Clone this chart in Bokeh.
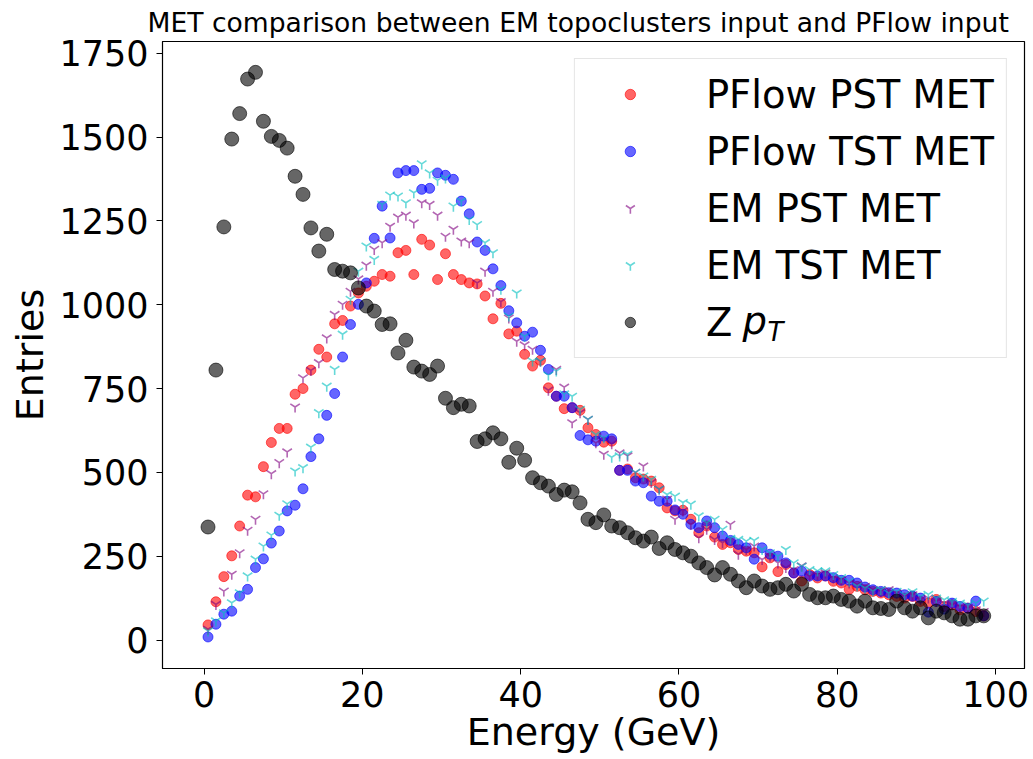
import numpy as np
from bokeh.plotting import figure
from bokeh.models import Range1d, FixedTicker, Legend, LegendItem, Label
from bokeh.embed import file_html
from bokeh.resources import INLINE

# bin centres (GeV)
energy = list(np.arange(0.5, 99.0, 1.0))

pflow_pst = [45, 114, 189, 251, 340, 432, 427, 517, 589, 631, 631, 733, 750, 805, 867, 844, 943, 953, 996, 1035,
             1055, 1070, 1090, 1085, 1155, 1162, 1090, 1195, 1178, 1075, 1152, 1090, 1075, 1065, 1062, 1026, 958, 1004, 913, 921,
             852, 817, 834, 752, 727, 690, 693, 685, 633, 613, 590, 593, 506, 510, 484, 480, 474, 454, 394, 385,
             387, 360, 320, 340, 307, 285, 290, 270, 265, 260, 218, 245, 204, 225, 200, 176, 195, 185, 191, 175,
             170, 151, 160, 150, 145, 140, 135, 130, 125, 130, 115, 110, 121, 100, 105, 90, 95, 85, 72]

pflow_tst = [9, 47, 77, 86, 131, 151, 216, 242, 289, 325, 385, 402, 451, 547, 600, 670, 735, 844, 941, 1001,
             1065, 1198, 1294, 1199, 1393, 1400, 1400, 1344, 1347, 1393, 1386, 1374, 1309, 1271, 1187, 1162, 1107, 1057, 982, 946,
             906, 918, 864, 807, 727, 727, 693, 610, 597, 593, 608, 600, 506, 506, 474, 469, 429, 414, 414, 388,
             375, 345, 335, 355, 335, 310, 297, 285, 275, 241, 275, 256, 250, 230, 200, 205, 191, 191, 191, 186,
             178, 178, 170, 158, 150, 145, 141, 140, 135, 131, 125, 83, 115, 92, 110, 100, 95, 116, 72]

em_pst = [32, 106, 146, 196, 260, 327, 360, 436, 496, 529, 561, 695, 782, 804, 827, 901, 971, 1001, 1040, 1077,
          1118, 1165, 1185, 1234, 1261, 1267, 1244, 1304, 1299, 1267, 1204, 1225, 1190, 1185, 1065, 1100, 1040, 1009, 960, 891,
          880, 867, 831, 745, 807, 754, 648, 678, 658, 588, 554, 585, 558, 549, 500, 519, 470, 450, 420, 360,
          385, 345, 305, 330, 300, 290, 345, 256, 270, 280, 240, 250, 230, 216, 210, 221, 190, 195, 200, 185,
          180, 170, 165, 160, 150, 145, 150, 140, 130, 135, 120, 125, 115, 110, 105, 100, 95, 90, 85]

em_tst = [27, 57, 81, 111, 141, 191, 241, 280, 313, 372, 406, 504, 514, 575, 678, 757, 807, 912, 1016, 1100,
          1175, 1135, 1299, 1327, 1324, 1304, 1334, 1420, 1393, 1371, 1378, 1294, 1309, 1254, 1239, 1185, 1155, 1046, 966, 1035,
          906, 832, 832, 790, 802, 734, 727, 688, 658, 613, 603, 545, 549, 554, 500, 489, 479, 450, 434, 429,
          410, 405, 370, 350, 360, 330, 303, 300, 295, 297, 270, 260, 250, 270, 230, 220, 210, 206, 206, 195,
          186, 175, 161, 155, 146, 150, 140, 145, 135, 144, 130, 136, 125, 120, 115, 110, 105, 110, 116]

z_pt = [337, 805, 1232, 1494, 1570, 1673, 1693, 1547, 1502, 1490, 1467, 1383, 1329, 1229, 1160, 1210, 1105, 1100, 1095, 1050,
        996, 981, 941, 943, 856, 894, 814, 802, 792, 817, 721, 693, 703, 698, 592, 600, 618, 600, 530, 572,
        536, 484, 469, 459, 434, 447, 442, 409, 360, 350, 373, 340, 335, 320, 305, 295, 307, 273, 290, 270,
        260, 250, 230, 216, 194, 216, 196, 176, 156, 176, 161, 151, 156, 166, 146, 166, 136, 126, 126, 131,
        121, 116, 101, 116, 96, 94, 91, 116, 96, 86, 96, 66, 86, 81, 72, 62, 62, 72, 72]

x_ticks = [0, 20, 40, 60, 80, 100]
y_ticks = [0, 250, 500, 750, 1000, 1250, 1500, 1750]

FONT = "DejaVu Sans"

p = figure(width=1033, height=759, output_backend="svg", toolbar_location=None,
           x_range=Range1d(-5.25, 103.65), y_range=Range1d(-85, 1785),
           min_border_left=162, min_border_right=9, min_border_top=40, min_border_bottom=91,
           title="MET comparison between EM topoclusters input and PFlow input")

p.title.text_font = FONT
p.title.text_font_size = "26.6px"
p.title.text_font_style = "normal"
p.title.align = "left"
p.title.offset = -15
p.title.text_color = "black"
p.title.standoff = 8

p.grid.visible = False
p.outline_line_color = "black"
p.outline_line_width = 1.2
p.background_fill_color = "white"
p.border_fill_color = "white"

for ax in (p.xaxis[0], p.yaxis[0]):
    ax.axis_line_color = "black"
    ax.major_tick_line_color = "black"
    ax.major_tick_out = 6
    ax.major_tick_in = 0
    ax.minor_tick_line_color = None
    ax.major_label_text_font = FONT
    ax.major_label_text_color = "black"
    ax.axis_label_text_font = FONT
    ax.axis_label_text_font_size = "38px"
    ax.axis_label_text_font_style = "normal"
    ax.axis_label_text_color = "black"

p.xaxis.major_label_text_font_size = "35px"
p.yaxis.major_label_text_font_size = "35px"
p.xaxis.ticker = FixedTicker(ticks=x_ticks)
p.yaxis.ticker = FixedTicker(ticks=y_ticks)
p.xaxis.axis_label = "Energy (GeV)"
p.yaxis.axis_label = "Entries"
p.xaxis.major_label_standoff = 6
p.yaxis.major_label_standoff = 8
p.xaxis.axis_label_standoff = 0
p.yaxis.axis_label_standoff = 4

r_red = p.scatter(energy, pflow_pst, size=10, marker="circle", fill_color="red", line_color="red",
                  fill_alpha=0.6, line_alpha=0.6)
r_blue = p.scatter(energy, pflow_tst, size=10, marker="circle", fill_color="blue", line_color="blue",
                   fill_alpha=0.6, line_alpha=0.6)
r_purple = p.scatter(energy, em_pst, size=11, marker="y", line_color="purple", line_alpha=0.6, line_width=1.6)
r_cyan = p.scatter(energy, em_tst, size=11, marker="y", line_color="#00bfbf", line_alpha=0.6, line_width=1.6)
r_black = p.scatter(energy, z_pt, size=14, marker="circle", fill_color="black", line_color="black",
                    fill_alpha=0.6, line_alpha=0.6)

legend = Legend(items=[
    LegendItem(label="PFlow PST MET", renderers=[r_red]),
    LegendItem(label="PFlow TST MET", renderers=[r_blue]),
    LegendItem(label="EM PST MET", renderers=[r_purple]),
    LegendItem(label="EM TST MET", renderers=[r_cyan]),
    LegendItem(label="Z", renderers=[r_black]),
], location="top_right")
legend.margin = 17
legend.padding = 12
legend.glyph_width = 86
legend.glyph_height = 26
legend.label_height = 46
legend.label_standoff = 33
legend.spacing = 11
legend.label_text_font = FONT
legend.label_text_font_size = "38.5px"
legend.label_text_color = "black"
legend.border_line_color = "#cccccc"
legend.border_line_width = 1.5
legend.background_fill_alpha = 0.0
p.add_layout(legend)

# italic p with subscript T for the "Z pT" legend entry
p.add_layout(Label(x=580, y=348, x_units="screen", y_units="screen", text="p", level="overlay",
                   text_font=FONT, text_font_size="38.5px", text_font_style="italic",
                   text_baseline="middle", text_color="black"))
p.add_layout(Label(x=605, y=337, x_units="screen", y_units="screen", text="T", level="overlay",
                   text_font=FONT, text_font_size="26px", text_font_style="italic",
                   text_baseline="middle", text_color="black"))

open("out.html", "w").write(file_html(p, INLINE))
